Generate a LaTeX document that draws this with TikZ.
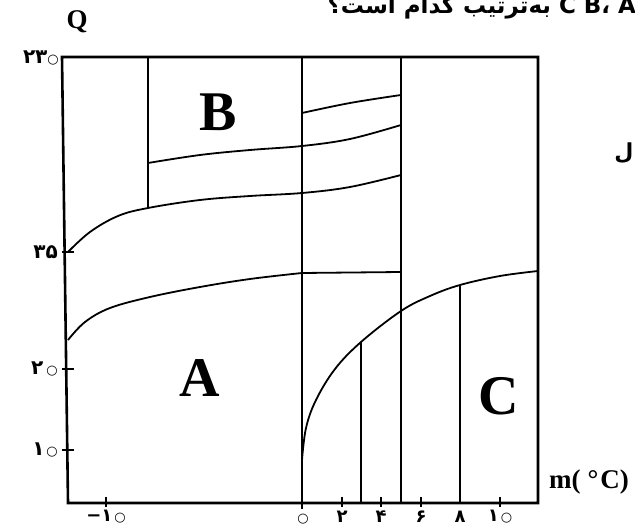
\documentclass[tikz,border=0pt]{standalone}
\usepackage{fontspec}
\setmainfont{Liberation Serif}
\newfontfamily\fa[Script=Arabic]{DejaVu Sans}
\newfontfamily\symf{DejaVu Sans}
\newcommand{\zr}{{\symf\fontsize{13}{13}\selectfont ○}}
\TeXXeTstate=1
\begin{document}
\begin{tikzpicture}[x=1pt,y=-1pt,
  axisline/.style={line width=2.6pt},
  vline/.style={line width=1.5pt},
  heavyline/.style={line width=2.6pt},
  curveline/.style={line width=1.8pt},
  ticklab/.style={font=\fa\bfseries\fontsize{20}{20}\selectfont, inner sep=0pt},
  botlab/.style={font=\fa\bfseries\fontsize{18}{18}\selectfont, inner sep=0pt},
  biglet/.style={font=\bfseries\fontsize{56}{56}\selectfont, inner sep=0pt},
  axlab/.style={font=\bfseries\fontsize{27}{27}\selectfont, inner sep=0pt}]
\useasboundingbox (0,0) rectangle (635,526);
\clip (0,0) rectangle (635,526);
% frame
\coordinate (TL) at (68,57);
\coordinate (TR) at (538,57);
\coordinate (BR) at (538,503);
\coordinate (BL) at (68,503);
\draw[axisline] (62,57) -- (TR) -- (BR) -- (BL) -- cycle;
% left ticks
\foreach \y in {252,369,450} \draw[vline] (62,\y) -- (74,\y);
% bottom ticks
\foreach \x in {106,342,381,421,500} \draw[vline] (\x,497) -- (\x,507);
% vertical lines
\draw[vline] (148,57) -- (148,207);
\draw[vline] (302,57) -- (302,509);
\draw[heavyline] (401,57) -- (401,503);
\draw[vline] (361,342) -- (361,503);
\draw[vline] (460,285) -- (460,503);
% curves
\draw[curveline] plot[smooth,tension=0.6] coordinates {(68,340) (85,322) (110,308) (150,297) (200,287) (250,279) (302,273)} -- (401,272);
\draw[curveline] plot[smooth,tension=0.6] coordinates {(68,252) (90,232) (118,216) (148,208) (200,200) (250,196) (302,193) (350,187) (401,175)};
\draw[curveline] plot[smooth,tension=0.6] coordinates {(148,163) (200,155) (250,150) (302,146) (350,139) (401,125)};
\draw[curveline] plot[smooth,tension=0.6] coordinates {(302,113) (350,103) (401,95)};
\draw[curveline] plot[smooth,tension=0.6] coordinates {(302,460) (306,428) (316,400) (335,369) (361,342) (401,311) (430,296) (460,285) (500,276) (538,271)};
% letters
\node[biglet] (B) at (218,112) {B};
\node[biglet] (A) at (200,378) {A};
\node[biglet] (C) at (499,396) {C};
\node[axlab] (Q) at (77,22) {Q};
\node[axlab, anchor=west] (m) at (549,482) {m(\hspace{7pt}°\hspace{2pt}C)};
% tick labels
\node[ticklab, anchor=east] (l230) at (59,58) {۲۳\zr};
\node[ticklab, anchor=east] (l35) at (58,252) {۳۵};
\node[ticklab, anchor=east] (l20) at (58,369) {۲\hspace{3pt}\zr};
\node[ticklab, anchor=east] (l10) at (58,450) {۱\hspace{2pt}\zr};
\node[botlab] (bm10) at (106,517) {\textbf{−}۱\hspace{2pt}\zr};
\node[botlab] (b0) at (303,519) {\zr};
\node[botlab] (b2) at (342,517) {۲};
\node[botlab] (b4) at (381,517) {۴};
\node[botlab] (b6) at (421,517) {۶};
\node[botlab] (b8) at (460,517) {۸};
\node[botlab] (b10) at (500,517) {۱\hspace{2pt}\zr};
% cut text
\node[font=\fa\bfseries\fontsize{23}{23}\selectfont, anchor=base east, inner sep=0pt] (title) at (645,14) {\beginR A، B، C به‌ترتیب کدام است؟\endR};
\node[font=\fa\bfseries\fontsize{22}{22}\selectfont, anchor=base, inner sep=0pt] (cut) at (624,160) {\beginR ل\endR};
\end{tikzpicture}
\end{document}
